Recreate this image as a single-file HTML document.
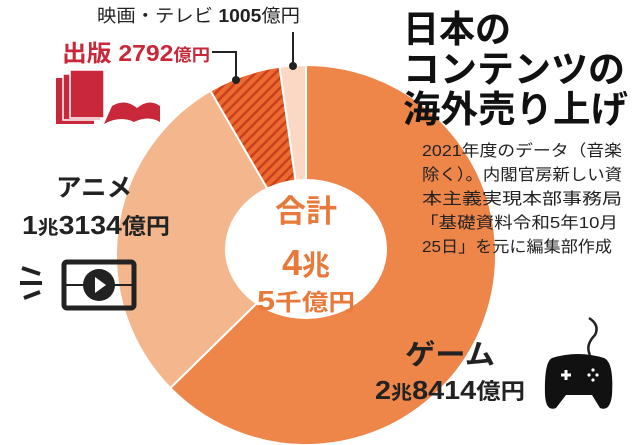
<!DOCTYPE html>
<html><head><meta charset="utf-8"><style>
html,body{margin:0;padding:0;background:#fff;}
svg{display:block;}
text{font-family:"Liberation Sans","Noto Sans CJK JP",sans-serif;}
</style></head><body>
<svg width="640" height="445" viewBox="0 0 640 445" xmlns="http://www.w3.org/2000/svg">
<defs>
<pattern id="h" width="7" height="7" patternUnits="userSpaceOnUse" patternTransform="rotate(45)">
<rect width="7" height="7" fill="#ec6a30"/><rect width="2.5" height="7" fill="#c8401c"/>
</pattern>
</defs>
<g stroke="#fff" stroke-width="2">
<path d="M306,255 L306,65 A190,190 0 1 1 170.3,388 Z" fill="#ee8549"/>
<path d="M306,255 L170.3,388 A190,190 0 0 1 210.4,90.8 Z" fill="#f4b68c"/>
<path d="M306,255 L210.4,90.8 A190,190 0 0 1 279.6,66.8 Z" fill="url(#h)"/>
<path d="M306,255 L279.6,66.8 A190,190 0 0 1 306,65 Z" fill="#fbd8c4"/>
</g>
<ellipse cx="306" cy="249" rx="81" ry="70" fill="#fff"/>
<path d="M212,52 H236 V80" stroke="#222" stroke-width="2" fill="none"/>
<circle cx="236" cy="80" r="4" fill="#222"/>
<path d="M293,32 V66" stroke="#222" stroke-width="2" fill="none"/>
<circle cx="293" cy="66" r="4" fill="#222"/>
<text x="97" y="22" font-size="18" fill="#222" textLength="203" lengthAdjust="spacingAndGlyphs">映画・テレビ <tspan font-weight="bold">1005</tspan>億円</text>
<text x="62" y="61" font-size="23" font-weight="bold" fill="#c8283a" textLength="148" lengthAdjust="spacingAndGlyphs">出版 2792<tspan font-size="17">億円</tspan></text>
<g fill="#c8283a">
<rect x="56" y="78" width="38" height="46"/><rect x="63" y="74" width="38" height="46" stroke="#fff" stroke-width="1.5"/>
<rect x="70" y="70" width="34" height="48" stroke="#fff" stroke-width="1.5"/>
<path d="M104,124 L112,106 Q125,98 137,108 Q149,98 160,106 L160,122 Q148,115 134,122 Q120,115 104,124Z"/>
</g>
<text x="403" y="42" font-size="37" font-weight="bold" fill="#111" textLength="108" lengthAdjust="spacingAndGlyphs">日本の</text>
<text x="403" y="82" font-size="37" font-weight="bold" fill="#111" textLength="222" lengthAdjust="spacingAndGlyphs">コンテンツの</text>
<text x="403" y="122" font-size="37" font-weight="bold" fill="#111" textLength="225" lengthAdjust="spacingAndGlyphs">海外売り上げ</text>
<g font-size="16" fill="#222">
<text x="422" y="156" textLength="200" lengthAdjust="spacingAndGlyphs">2021年度のデータ（音楽</text>
<text x="422" y="180" textLength="200" lengthAdjust="spacingAndGlyphs">除く）。内閣官房新しい資</text>
<text x="422" y="204" textLength="200" lengthAdjust="spacingAndGlyphs">本主義実現本部事務局</text>
<text x="420" y="228" textLength="198" lengthAdjust="spacingAndGlyphs">「基礎資料令和5年10月</text>
<text x="422" y="252" textLength="190" lengthAdjust="spacingAndGlyphs">25日」を元に編集部作成</text>
</g>
<text x="56" y="196" font-size="25" font-weight="bold" fill="#222" textLength="76" lengthAdjust="spacingAndGlyphs">アニメ</text>
<text x="22" y="234" font-size="26" font-weight="bold" fill="#222" textLength="148" lengthAdjust="spacingAndGlyphs">1<tspan font-size="19">兆</tspan>3134<tspan font-size="22">億円</tspan></text>
<g text-anchor="middle" font-weight="bold" fill="#e8793a">
<text x="306" y="222" font-size="31">合計</text>
<text x="306" y="275" font-size="36">4<tspan font-size="28">兆</tspan></text>
<text x="306" y="310" font-size="28" textLength="98" lengthAdjust="spacingAndGlyphs">5<tspan font-size="23">千億円</tspan></text>
</g>
<text x="405" y="364" font-size="28" font-weight="bold" fill="#222" textLength="90" lengthAdjust="spacingAndGlyphs">ゲーム</text>
<text x="375" y="399" font-size="26" font-weight="bold" fill="#222" textLength="150" lengthAdjust="spacingAndGlyphs">2<tspan font-size="19">兆</tspan>8414<tspan font-size="22">億円</tspan></text>
<g>
<rect x="64" y="262" width="70" height="46" rx="3" fill="none" stroke="#222" stroke-width="5"/>
<circle cx="99" cy="285" r="16" fill="#222"/>
<path d="M66,285 H132" stroke="#222" stroke-width="2"/>
<path d="M95,277 L106,285 L95,293Z" fill="#fff"/>
<path d="M22,268 L40,274 M20,283 L42,283 M24,298 L40,292" stroke="#222" stroke-width="4"/>
</g>
<path d="M589,318 Q600,325 595,335 Q585,345 590,355" stroke="#222" stroke-width="2.5" fill="none"/>
<path d="M552,358 Q578,350 604,358 Q614,362 612,395 Q610,412 600,408 L592,395 H566 L556,408 Q546,412 545,395 Q544,362 552,358Z" fill="#111"/>
<path d="M561,375 h10 M566,370 v10" stroke="#fff" stroke-width="3"/>
<g fill="#fff"><circle cx="593" cy="370" r="1.6"/><circle cx="589" cy="375" r="1.6"/><circle cx="597" cy="375" r="1.6"/><circle cx="593" cy="380" r="1.6"/></g>
</svg>
</body></html>
